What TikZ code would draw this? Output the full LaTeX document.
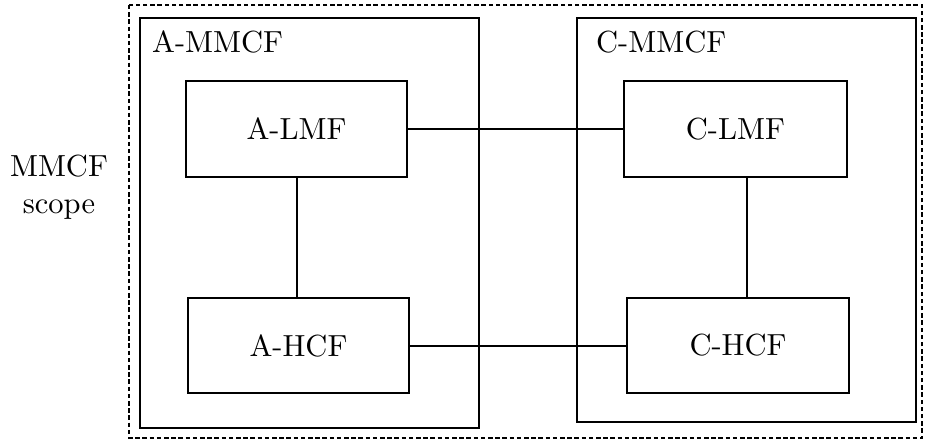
\documentclass[tikz,border=0pt]{standalone}
\usepackage{fontspec}
\setmainfont{lmroman10-regular.otf}
\usepackage{tikz}
\usetikzlibrary{positioning}
\begin{document}
\begin{tikzpicture}[x=1pt,y=-1pt,
		fbox/.style={draw,line width=2pt,minimum width=221pt,minimum height=96pt,inner sep=0pt,font=\fontsize{30.5}{32}\selectfont},
		lab/.style={inner sep=0pt,anchor=base west,font=\fontsize{30.5}{32}\selectfont},
		wire/.style={line width=2pt}]
					\useasboundingbox (0,0) rectangle (927,441);
					\draw[line width=2.2pt,dash pattern=on 4.5pt off 2.7pt] (129,5) rectangle (922,438);
					\draw[line width=2pt] (140,18) rectangle (479,428);
					\draw[line width=2pt] (577,18) rectangle (916,422);
					\node[lab] (ammcf) at (152,53) {A-MMCF};
					\node[lab] (cmmcf) at (596,53) {C-MMCF};
					\node[inner sep=0pt,anchor=base,align=center,font=\fontsize{30.5}{36}\selectfont] (scope) at (59,213) {MMCF\\scope};
					\node[fbox] (almf) at (296.5,129) {A-LMF};
					\node[fbox,minimum height=95pt] (ahcf) at (298.5,345.5) {A-HCF};
					\node[fbox,minimum width=223pt] (clmf) at (735.5,129) {C-LMF};
					\node[fbox,minimum width=222pt,minimum height=95pt] (chcf) at (738,345.5) {C-HCF};
					\draw[wire] (almf.south) -- (almf.south |- ahcf.north);
					\draw[wire] ([xshift=11pt]clmf.south) -- ([xshift=11pt]clmf.south |- chcf.north);
					\draw[wire] (almf.east) -- (clmf.west);
					\draw[wire] (ahcf.east) -- (chcf.west);
				\end{tikzpicture}
\end{document}
